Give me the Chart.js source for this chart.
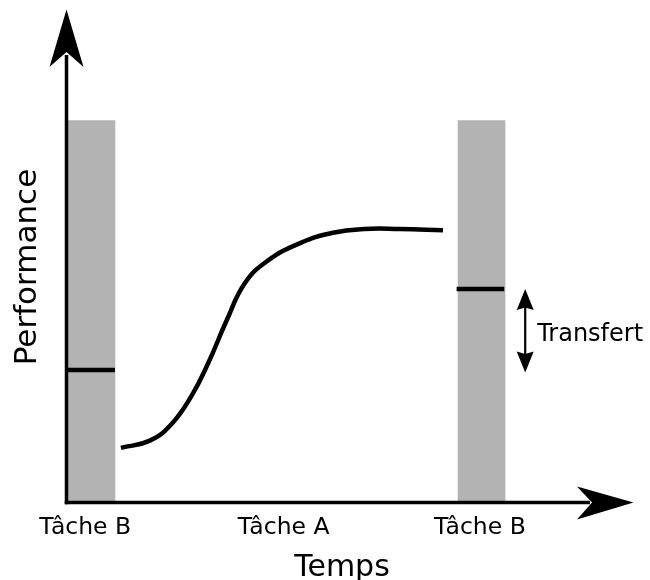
<!DOCTYPE html>
<html><head><meta charset="utf-8">
<script src="https://cdn.jsdelivr.net/npm/chart.js@4/dist/chart.umd.min.js"></script>
<style>html,body{margin:0;padding:0;background:#fff;}canvas{display:block;}</style>
</head><body>
<canvas id="c" width="650" height="580"></canvas>
<script>
// ---- data ----
const phaseLabels = ['Tâche B', 'Tâche A', 'Tâche B'];
const phasePositions = [3.3, 38.3, 72.9];
const barCenters = [4.4, 73.2];
const barHeights = [100, 100];
const levelB1X = [0.26, 8.55];
const levelB1Y = [34.7, 34.7];
const levelB2X = [68.8, 77.2];
const levelB2Y = [55.9, 55.9];
const curveX = [9.6, 14.7, 18.5, 22.0, 25.0, 28.2, 31.5, 35.5, 41.2, 47.0, 52.5, 58.8, 66.4];
const curveY = [14.3, 16.2, 20.5, 27.8, 36.5, 47.5, 57.5, 63.3, 67.9, 70.6, 71.6, 71.6, 71.3];
const transferX = 80.9;
const transferRange = [55.9, 34.0];
const xTitle = 'Temps';
const yTitle = 'Performance';
const transferLabel = 'Transfert';

const pts = (xs, ys) => xs.map((x, i) => ({x, y: ys[i]}));

const decor = {
  id: 'decor',
  afterDatasetsDraw(chart) {
    const ctx = chart.ctx;
    const a = chart.chartArea;
    const xs = chart.scales.x, ys = chart.scales.y;
    const L = a.left, B = a.bottom;
    ctx.save();
    ctx.fillStyle = '#000';
    ctx.strokeStyle = '#000';
    // axes
    ctx.lineWidth = 3.5;
    ctx.beginPath(); ctx.moveTo(L, B + 1.75); ctx.lineTo(L, 55); ctx.stroke();
    ctx.beginPath(); ctx.moveTo(L - 1.75, B); ctx.lineTo(590, B); ctx.stroke();
    // y arrowhead
    ctx.beginPath();
    ctx.moveTo(L, 9.5); ctx.lineTo(L + 17, 67); ctx.lineTo(L, 52); ctx.lineTo(L - 17, 67); ctx.closePath(); ctx.fill();
    // x arrowhead
    ctx.beginPath();
    ctx.moveTo(a.right, B); ctx.lineTo(577, B + 17); ctx.lineTo(592, B); ctx.lineTo(577, B - 16); ctx.closePath(); ctx.fill();
    // transfer arrow
    const tx = xs.getPixelForValue(transferX);
    const t1 = ys.getPixelForValue(transferRange[0]);
    const t2 = ys.getPixelForValue(transferRange[1]);
    ctx.lineWidth = 2.2;
    ctx.beginPath(); ctx.moveTo(tx, t1 + 14); ctx.lineTo(tx, t2 - 14); ctx.stroke();
    ctx.beginPath();
    ctx.moveTo(tx, t1); ctx.lineTo(tx + 8.5, t1 + 21); ctx.lineTo(tx, t1 + 18.5); ctx.lineTo(tx - 8.5, t1 + 21); ctx.closePath(); ctx.fill();
    ctx.beginPath();
    ctx.moveTo(tx, t2); ctx.lineTo(tx + 8.5, t2 - 21); ctx.lineTo(tx, t2 - 18.5); ctx.lineTo(tx - 8.5, t2 - 21); ctx.closePath(); ctx.fill();
    // texts
    ctx.textBaseline = 'alphabetic';
    ctx.font = '24px "DejaVu Sans"';
    ctx.textAlign = 'left';
    ctx.fillText(transferLabel, tx + 12, (t1 + t2) / 2 + 10);
    ctx.textAlign = 'center';
    ctx.font = '23.5px "DejaVu Sans"';
    phaseLabels.forEach((lab, i) => {
      ctx.fillText(lab, xs.getPixelForValue(phasePositions[i]), B + 31.5);
    });
    ctx.font = '30px "DejaVu Sans"';
    ctx.fillText(xTitle, 342, 576);
    ctx.save();
    ctx.translate(36, 267);
    ctx.rotate(-Math.PI / 2);
    ctx.font = '31px "DejaVu Sans"';
    ctx.fillText(yTitle, 0, 0);
    ctx.restore();
    ctx.restore();
  }
};

new Chart(document.getElementById('c'), {
  type: 'bar',
  data: {
    datasets: [
      {
        type: 'bar',
        data: pts(barCenters, barHeights),
        backgroundColor: '#b3b3b3',
        borderWidth: 0,
        barThickness: 47,
        grouped: false,
        order: 3
      },
      {
        type: 'line',
        data: pts(levelB1X, levelB1Y),
        borderColor: '#000', borderWidth: 4.5, pointRadius: 0, fill: false, order: 2
      },
      {
        type: 'line',
        data: pts(levelB2X, levelB2Y),
        borderColor: '#000', borderWidth: 4.5, pointRadius: 0, fill: false, order: 2
      },
      {
        type: 'line',
        data: pts(curveX, curveY),
        borderColor: '#000', borderWidth: 4.5, pointRadius: 0, fill: false,
        tension: 0.45, borderCapStyle: 'butt', order: 1
      }
    ]
  },
  options: {
    responsive: false,
    animation: false,
    devicePixelRatio: 1,
    layout: { padding: { left: 66.5, right: 16.5, top: 5.9, bottom: 77.5 } },
    plugins: { legend: { display: false }, tooltip: { enabled: false } },
    scales: {
      x: { type: 'linear', min: 0, max: 100, display: false, offset: false },
      y: { type: 'linear', min: 0, max: 130, display: false }
    }
  },
  plugins: [decor]
});
</script>
</body></html>
